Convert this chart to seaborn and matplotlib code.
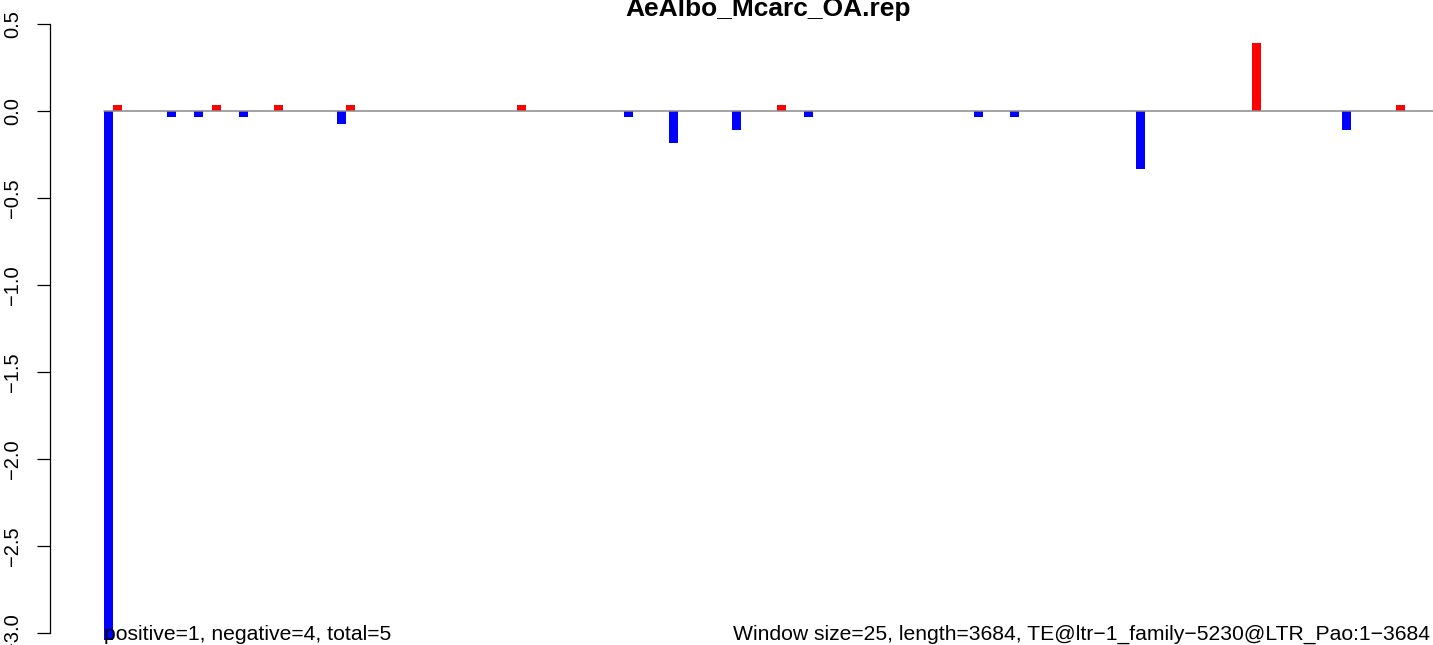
import numpy as np
import pandas as pd
import seaborn as sns
import matplotlib.pyplot as plt

# windows of 25 bp, start positions in bp
window_size = 25
seq_length = 3684
title = "AeAlbo_Mcarc_OA.rep"
te_name = "TE@ltr\u22121_family\u22125230@LTR_Pao:1\u22123684"

neg_starts = [0, 175, 250, 375, 650, 1450, 1575, 1750, 1950, 2425, 2525, 2875, 3450]
neg_values = [-3.04, -0.037, -0.037, -0.037, -0.074, -0.037, -0.185, -0.111,
              -0.037, -0.037, -0.037, -0.333, -0.111]
pos_starts = [0, 275, 450, 650, 1125, 1850, 3175, 3575]
pos_values = [0.037, 0.037, 0.037, 0.037, 0.037, 0.037, 0.39, 0.037]

yticks = [-3.0, -2.5, -2.0, -1.5, -1.0, -0.5, 0.0, 0.5]

# blue bar sits in its window, red bar in the next half step
df = pd.DataFrame({
    "pos": [s + window_size / 2 for s in neg_starts] + [s + window_size * 1.5 for s in pos_starts],
    "value": neg_values + pos_values,
    "sign": ["neg"] * len(neg_starts) + ["pos"] * len(pos_starts),
})

sns.set_theme(style="white", rc={"text.color": "black", "axes.labelcolor": "black",
                                 "xtick.color": "black", "ytick.color": "black"})
plt.rcParams["font.family"] = ["Liberation Sans", "DejaVu Sans"]

fig = plt.figure(figsize=(14.33, 6.45), dpi=100)
ax = fig.add_axes([50 / 1433, 0, 1383 / 1433, 1])

sns.barplot(data=df, x="pos", y="value", hue="sign", palette={"neg": "#0000FF", "pos": "#FF0000"},
            native_scale=True, dodge=False, width=1, errorbar=None, saturation=1,
            linewidth=0, legend=False, ax=ax)

ax.set_xlim(-150.5, 3704)
ax.set_ylim(-3.069, 0.638)
ax.plot([0, ax.get_xlim()[1]], [0, 0], color="#8a8a8a", lw=1.1, zorder=5)

for side in ["top", "right", "bottom"]:
    ax.spines[side].set_visible(False)
ax.spines["left"].set_bounds(-3.0, 0.5)
ax.spines["left"].set_color("black")
ax.spines["left"].set_linewidth(0.9)
ax.set_xticks([])
ax.set_xlabel("")
ax.set_ylabel("")
ax.set_yticks(yticks)
ax.set_yticklabels([f"{v:.1f}".replace("-", "\u2212") for v in yticks],
                   rotation=90, va="center", fontsize=14.5, color="black")
ax.tick_params(axis="y", left=True, length=9.4, width=0.9, color="black", pad=10.5)

fig.text(768 / 1433, 1 - 16 / 645, title, ha="center", va="baseline",
         fontsize=19, fontweight="bold", color="black")

n_pos = 1
n_neg = 4
ax.text(0, -3.04, f"positive={n_pos}, negative={n_neg}, total={n_pos + n_neg}",
        ha="left", va="baseline", fontsize=15.25, color="black")
ax.text((1430 - 50) / 1383, 5 / 645,
        f"Window size={window_size}, length={seq_length}, {te_name}",
        transform=ax.transAxes, ha="right", va="baseline", fontsize=15.2, color="black")

fig.savefig("out.png", dpi=100)
